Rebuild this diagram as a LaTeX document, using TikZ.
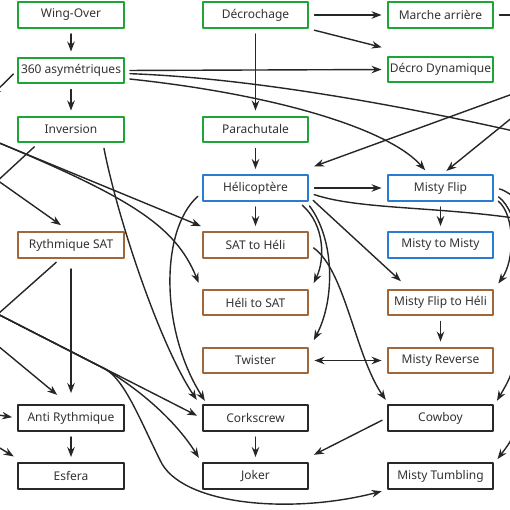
\documentclass[tikz,border=0pt]{standalone}
\usepackage{fontspec}
\setmainfont{Noto Sans}
\usetikzlibrary{arrows.meta,calc}
\definecolor{figgreen}{RGB}{30,165,55}
\definecolor{figblue}{RGB}{40,125,210}
\definecolor{figbrown}{RGB}{160,104,58}
\definecolor{figblack}{RGB}{40,40,40}
\begin{document}
\begin{tikzpicture}[x=1pt, y=-1pt, line join=round, line cap=round,
		font=\fontsize{12}{14}\selectfont, >={Stealth[length=10pt,width=7.5pt]},
		box/.style={draw, line width=2.4pt, minimum width=105.5pt, minimum height=25.5pt, inner sep=0pt, text=black!80, fill=white},
		gbox/.style={box, draw=figgreen},
		bbox/.style={box, draw=figblue},
		obox/.style={box, draw=figbrown},
		kbox/.style={box, draw=figblack},
		link/.style={->, line width=1.4pt, draw=black!85, shorten >=5pt, shorten <=5pt}]
		\def\cA{71} \def\cB{255.5} \def\cC{440.5}
		\useasboundingbox (0,0) rectangle (510,510);
		\clip (0,0) rectangle (510,510);
		% figures
		\node[gbox] (wing) at (\cA,15) {Wing-Over};
		\node[gbox] (asym) at (\cA,70.5) {360 asymétriques};
		\node[gbox] (inver) at (\cA,129.5) {Inversion};
		\node[obox] (rythm) at (\cA,245) {Rythmique SAT};
		\node[kbox] (anti) at (\cA,418) {Anti Rythmique};
		\node[kbox] (esfera) at (\cA,476) {Esfera};
		\node[gbox] (decro) at (\cB,15) {Décrochage};
		\node[gbox] (para) at (\cB,129.5) {Parachutale};
		\node[bbox] (heli) at (\cB,188) {Hélicoptère};
		\node[obox] (sath) at (\cB,245) {SAT to Héli};
		\node[obox] (hsat) at (\cB,302.5) {Héli to SAT};
		\node[obox] (twist) at (\cB,360.5) {Twister};
		\node[kbox] (cork) at (\cB,418) {Corkscrew};
		\node[kbox] (joker) at (\cB,476) {Joker};
		\node[gbox] (marche) at (\cC,15) {Marche arrière};
		\node[gbox] (dyna) at (\cC,69.5) {Décro Dynamique};
		\node[bbox] (mflip) at (\cC,188) {Misty Flip};
		\node[bbox] (mtom) at (\cC,245) {Misty to Misty};
		\node[obox] (mfh) at (\cC,302.5) {Misty Flip to Héli};
		\node[obox] (mrev) at (\cC,360.5) {Misty Reverse};
		\node[kbox] (cowboy) at (\cC,418) {Cowboy};
		\node[kbox] (mtumb) at (\cC,476) {Misty Tumbling};
		% ends outside the frame
		\coordinate (offA) at (-12,99);
		\coordinate (offB) at (-20,197);
		\coordinate (offC) at (-20,168);
		\coordinate (offD) at (-20,135);
		\coordinate (offE) at (-20,330);
		\coordinate (offF) at (-20,305);
		\coordinate (offG) at (-20,331);
		\coordinate (offH) at (-20,412);
		\coordinate (offI) at (-20,436);
		\coordinate (fork) at (105,369);
		\coordinate (offR1) at (540,137);
		\coordinate (offR2) at (540,84);
		\coordinate (offR3) at (540,95);
		\coordinate (offR4) at (540,222);
		\coordinate (offR5) at (530,205);
		\coordinate (offR6) at (530,245);
		\coordinate (offR7) at (520,330);
		\coordinate (offR8) at (520,410);
		\coordinate (offR9) at (530,15);
		% top
		\draw[link] (wing) -- (asym);
		\draw[link] (asym) -- (inver);
		\draw[link] (asym.west) -- (offA);
		\draw[link] (asym.east) -- (dyna.west);
		\draw[link] ($(asym.east)+(0,3)$) .. controls (250,78) and (400,105) .. (offR1);
		\draw[link] ($(asym.east)+(0,8)$) .. controls (280,95) and (390,130) .. ($(mflip.north)+(-12,0)$);
		\draw[link] (decro) -- (marche);
		\draw[link] (marche) -- (offR9);
		\draw[link] (decro.south east) -- ($(dyna.north west)+(0,-7)$);
		\draw[link] (decro) -- (para);
		\draw[link] (para) -- (heli);
		\draw[link] (offR2) -- ($(heli.north east)+(0,-6)$);
		\draw[link] (offR3) -- ($(mflip.north)+(2,0)$);
		% middle
		\draw[link] (heli) -- (mflip);
		\draw[link] ($(heli.east)+(0,5)$) .. controls (360,210) and (440,206) .. (offR4);
		\draw[link] (heli) -- (sath);
		\draw[link] ($(heli.east)+(0,9)$) -- ($(mfh.north west)+(18,-4)$);
		\draw[link] ($(heli.south)+(43,0)$) .. controls (325,225) and (325,260) .. ($(hsat.north east)+(2,-1)$);
		\draw[link] ($(heli.south)+(51,0)$) .. controls (335,240) and (335,300) .. ($(twist.north east)+(2,-2)$);
		\draw[link] ($(heli.west)+(0,5)$) .. controls (160,230) and (160,330) .. ($(cork.north west)+(6,1)$);
		\draw[link] (sath.east) .. controls (345,270) and (355,355) .. ($(cowboy.north west)+(2,0)$);
		\draw[link, <->] (twist) -- (mrev);
		\draw[link] (mflip) -- (mtom);
		\draw[link] (mflip.east) .. controls (505,190) and (515,198) .. (offR5);
		\draw[link] ($(mflip.east)+(0,6)$) .. controls (510,205) and (514,225) .. (offR6);
		\draw[link] ($(mflip.east)+(0,10)$) .. controls (515,215) and (515,260) .. ($(mfh.north east)+(1,-1)$);
		\draw[link] (mfh) -- (mrev);
		\draw[link] (offR7) .. controls (512,375) .. ($(cowboy.north east)+(0,1)$);
		\draw[link] (offR8) .. controls (512,440) .. ($(mtumb.north east)+(0,1)$);
		\draw[link] (cowboy.west) -- ($(joker.north east)+(0,-5)$);
		\draw[link] (cork) -- (joker);
		% left
		\draw[link] ($(inver.south)+(-33,0)$) -- (offB);
		\draw[link] (offC) -- ($(rythm.north)+(-6,-3)$);
		\draw[link] (offD) -- ($(sath.north west)+(4,-3)$);
		\draw[link] (offD) .. controls (130,197) and (175,225) .. ($(hsat.north west)+(-1,-1)$);
		\draw[link] ($(inver.south)+(32,0)$) .. controls (118,220) and (160,345) .. ($(cork.north west)+(-2,0)$);
		\draw[link] ($(rythm.south)+(-11,0)$) -- (offE);
		\draw[link, shorten <=10pt, shorten >=11pt] (rythm) -- (anti);
		\draw[link] (offG) -- ($(anti.north)+(-10,-6)$);
		\draw[link] (offF) -- (cork.west);
		\draw[link] (offF) -- (fork) .. controls (140,390) and (175,420) .. (joker.north west);
		\draw[link] (offF) -- (fork) .. controls (125,380) and (140,420) .. (160,460) .. controls (180,505) and (290,515) .. (mtumb.south west);
		\draw[link] (offH) -- (anti.west);
		\draw[link] (anti) -- (esfera);
		\draw[link] (offI) -- ($(esfera.north west)+(1,-3)$);
\end{tikzpicture}
\end{document}
